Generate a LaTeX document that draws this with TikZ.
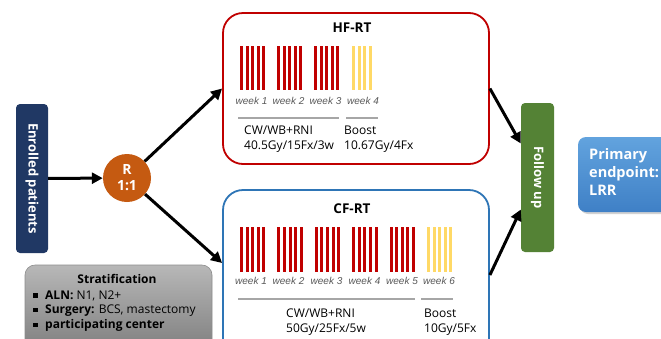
\documentclass[tikz,border=0pt]{standalone}
\usepackage{graphicx}
\usepackage{fontspec}
\setmainfont{Open Sans}
\newfontfamily\weekfont{Liberation Sans}
\usetikzlibrary{arrows.meta,shadows}
\definecolor{navy}{HTML}{203864}
\definecolor{rorange}{HTML}{C55A11}
\definecolor{hfred}{HTML}{C00000}
\definecolor{cfblue}{HTML}{2E75B6}
\definecolor{fgreen}{HTML}{548235}
\definecolor{byellow}{HTML}{FFD966}
\definecolor{ptop}{HTML}{62A3DE}
\definecolor{pbot}{HTML}{3F80C6}
\definecolor{lgray}{HTML}{A6A6A6}
\definecolor{wkgray}{HTML}{595959}
\begin{document}
\begin{tikzpicture}[x=1pt,y=-1pt,
  arr/.style={line width=3pt,-{Triangle[length=11pt,width=11pt]}},
  vbox/.style={rectangle,rounded corners=4pt,text=white,font=\fontsize{13}{15}\selectfont\bfseries,inner sep=0pt},
  armbox/.style={rectangle,rounded corners=20pt,line width=1.8pt,fill=white},
  week/.style={font=\weekfont\itshape\fontsize{10}{12}\selectfont,text=wkgray,anchor=base,inner sep=0pt},
  dose/.style={font=\fontsize{12}{14}\selectfont,anchor=base west,inner sep=0pt},
  title/.style={font=\fontsize{13.5}{15}\selectfont\bfseries,anchor=base,inner sep=0pt},
  divider/.style={draw=lgray,line width=1.3pt},
  strat/.style={font=\fontsize{12}{14}\selectfont,anchor=base west,inner sep=0pt},
  bullet/.style={rectangle,fill=black,minimum size=4.5pt,inner sep=0pt}]
\useasboundingbox (0,0) rectangle (661,338);
\fill[white] (0,0) rectangle (661,338);
\clip (0,0) rectangle (661,338);

% left column
\node[vbox,fill=navy,minimum width=32pt,minimum height=149pt] (enrolled) at (32,178.5) {\rotatebox{-90}{Enrolled patients}};
\node[circle,fill=rorange,minimum size=48pt,inner sep=0pt,text=white,align=center,
  font=\fontsize{14}{16}\selectfont\bfseries] (R) at (127,178) {R\\1:1};

% arm boxes
\node[armbox,draw=hfred,minimum width=266pt,minimum height=151pt] (hf) at (356,88.5) {};
\node[armbox,draw=cfblue,minimum width=266pt,minimum height=170pt] (cf) at (356,275) {};

% follow up and endpoint
\node[vbox,fill=fgreen,minimum width=33pt,minimum height=149pt] (follow) at (537.5,177.5) {\rotatebox{-90}{Follow up}};
\node[rectangle,rounded corners=8pt,top color=ptop,bottom color=pbot,minimum width=110pt,minimum height=75pt,
  drop shadow={shadow xshift=2pt,shadow yshift=-2pt,opacity=0.35}] (primary) at (633,174.5) {};
\node[font=\fontsize{14.5}{18}\selectfont\bfseries,text=white,anchor=base west,inner sep=0pt,align=left,text width=90pt] (ptext) at (589,159.5) {Primary\\endpoint:\\LRR};

% stratification
\node[rectangle,rounded corners=10pt,top color=black!28,bottom color=black!50,draw=black!45,line width=0.6pt,
  minimum width=187pt,minimum height=85pt] (stratbox) at (118.5,307.5) {};
\node[font=\fontsize{12}{14}\selectfont\bfseries,anchor=base,inner sep=0pt] (strattitle) at (117,283) {Stratification};
\node[bullet] (b1) at (35.5,295.5) {};
\node[bullet] (b2) at (35.5,310) {};
\node[bullet] (b3) at (35.5,325) {};
\node[strat] (s1) at (45,299) {\textbf{ALN:} N1, N2+};
\node[strat] (s2) at (45,313.5) {\textbf{Surgery:} BCS, mastectomy};
\node[strat] (s3) at (45,328.5) {\textbf{participating center}};

% arrows
\draw[arr] (enrolled) -- (R);
\draw[arr] (R) -- (hf.west);
\draw[arr] (R) -- ([yshift=12pt]cf.west);
\draw[arr] (hf.east) -- ([yshift=34pt]follow.west);
\draw[arr] (cf.east) -- ([yshift=-32pt]follow.west);

% HF-RT contents
\node[title] (hft) at (352,32) {HF-RT};
\foreach \g in {0,1,2} {\foreach \b in {0,...,4} {\fill[hfred] ({240+37*\g+5.6*\b},46) rectangle ++(2.9,44);}}
\foreach \b in {0,...,3} {\fill[byellow] ({352+5.6*\b},46) rectangle ++(2.9,44);}
\node[week] (hw1) at (251.5,104) {week 1};
\node[week] (hw2) at (288.5,104) {week 2};
\node[week] (hw3) at (325.5,104) {week 3};
\node[week] (hw4) at (363,104) {week 4};
\draw[divider] (238,118) -- (339,118);
\draw[divider] (346,118) -- (378,118);
\node[dose] (hd1) at (244,134) {CW/WB+RNI};
\node[dose] (hd2) at (244,149) {40.5Gy/15Fx/3w};
\node[dose] (hd3) at (344,134) {Boost};
\node[dose] (hd4) at (344,149) {10.67Gy/4Fx};

% CF-RT contents
\node[title] (cft) at (352,213) {CF-RT};
\foreach \g in {0,...,4} {\foreach \b in {0,...,4} {\fill[hfred] ({240+37.4*\g+5.6*\b},227) rectangle ++(2.9,45);}}
\foreach \b in {0,...,4} {\fill[byellow] ({427+5.6*\b},227) rectangle ++(2.9,45);}
\node[week] (cw1) at (251,284) {week 1};
\node[week] (cw2) at (288.5,284) {week 2};
\node[week] (cw3) at (326.5,284) {week 3};
\node[week] (cw4) at (364.5,284) {week 4};
\node[week] (cw5) at (402,284) {week 5};
\node[week] (cw6) at (439,284) {week 6};
\draw[divider] (238,299) -- (415,299);
\draw[divider] (421,299) -- (453,299);
\node[dose] (cd1) at (286,317) {CW/WB+RNI};
\node[dose] (cd2) at (286,332) {50Gy/25Fx/5w};
\node[dose] (cd3) at (424,317) {Boost};
\node[dose] (cd4) at (424,332) {10Gy/5Fx};
\end{tikzpicture}
\end{document}
